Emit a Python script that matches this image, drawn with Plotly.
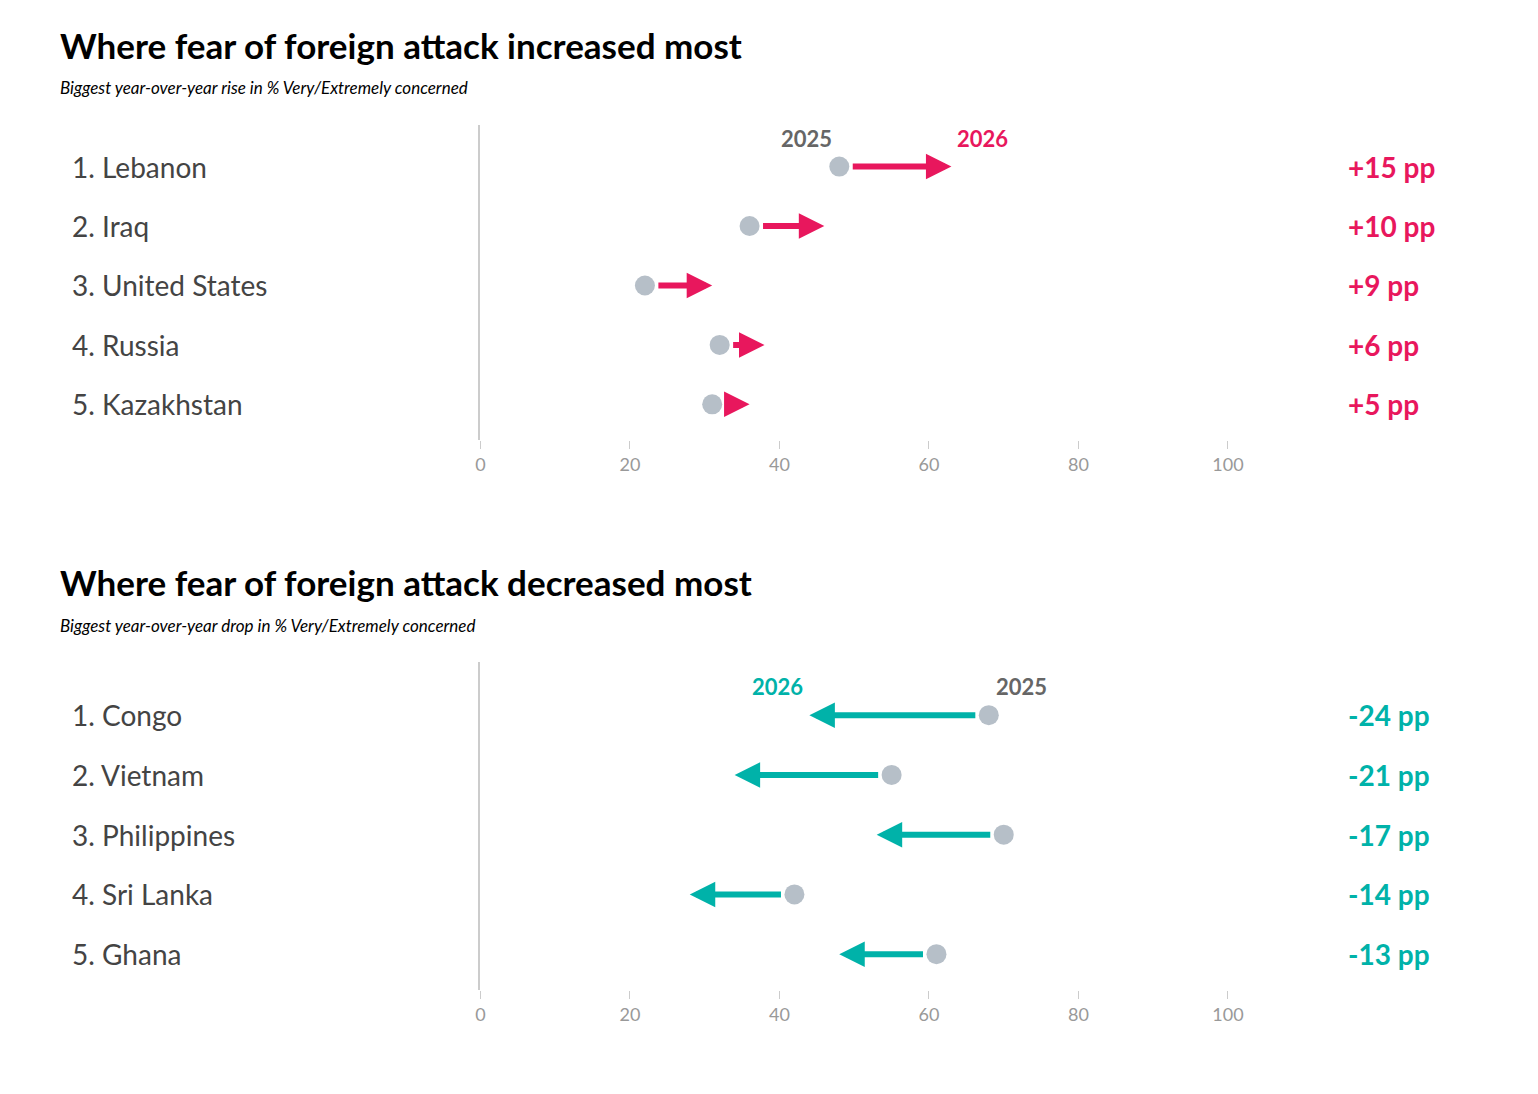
import plotly.graph_objects as go

inc_countries = ["1. Lebanon", "2. Iraq", "3. United States", "4. Russia", "5. Kazakhstan"]
inc_2025 = [48, 36, 22, 32, 31]
inc_2026 = [63, 46, 31, 38, 36]
inc_labels = ["+15 pp", "+10 pp", "+9 pp", "+6 pp", "+5 pp"]

dec_countries = ["1. Congo", "2. Vietnam", "3. Philippines", "4. Sri Lanka", "5. Ghana"]
dec_2025 = [68, 55, 70, 42, 61]
dec_2026 = [44, 34, 53, 28, 48]
dec_labels = ["-24 pp", "-21 pp", "-17 pp", "-14 pp", "-13 pp"]

RED = "#e8175d"
TEAL = "#00b2a9"
GREY = "#b6bfc8"
W, H = 1522, 1078
OFF = 8
FONT = "Lato"

def px(x):
    return (x - OFF) / W

def py(y):
    return 1 - (y - OFF) / H

fig = go.Figure()
ann = []

def panel(idx, countries, v25, v26, labels, color, ytop, ybot, yrange, title, sub, ty):
    xa = "x" if idx == 1 else "x2"
    ya = "y" if idx == 1 else "y2"
    ypos = list(range(len(countries)))
    fig.add_trace(go.Scatter(x=v25, y=ypos, mode="markers", xaxis=xa, yaxis=ya,
                             marker=dict(size=20, color=GREY), showlegend=False, hoverinfo="skip"))
    for i in ypos:
        direction = 1 if v26[i] > v25[i] else -1
        ann.append(dict(x=v26[i], y=i, ax=v25[i] + direction * 1.6, ay=i, xref=xa, yref=ya,
                        axref=xa, ayref=ya, showarrow=True, arrowhead=2, arrowsize=0.85,
                        arrowwidth=6, arrowcolor=color, text=""))
        ann.append(dict(x=px(66), y=i, xref="paper", yref=ya, text=countries[i], showarrow=False,
                        xanchor="left", font=dict(size=28, color="#444", family=FONT)))
        ann.append(dict(x=px(1360), y=i, xref="paper", yref=ya, text="<b>%s</b>" % labels[i],
                        showarrow=False, xanchor="left", font=dict(size=28, color=color, family=FONT)))
    d = 1 if v26[0] > v25[0] else -1
    ann.append(dict(x=v25[0] - d * 4.4, y=-0.48, xref=xa, yref=ya, text="<b>2025</b>", showarrow=False,
                    yanchor="middle", font=dict(size=22, color="#666", family=FONT)))
    ann.append(dict(x=v26[0] + d * 4.2, y=-0.48, xref=xa, yref=ya, text="<b>2026</b>", showarrow=False,
                    yanchor="middle", font=dict(size=22, color=color, family=FONT)))
    ann.append(dict(x=px(54), y=py(ty), xref="paper", yref="paper", text="<b>%s</b>" % title,
                    showarrow=False, xanchor="left", yanchor="middle",
                    font=dict(size=35, color="black", family=FONT)))
    ann.append(dict(x=px(54), y=py(ty + 43), xref="paper", yref="paper", text="<i>%s</i>" % sub,
                    showarrow=False, xanchor="left", yanchor="middle",
                    font=dict(size=17, color="black", family=FONT)))
    axx = dict(domain=[px(482), px(1240)], range=[0, 100], tickvals=[0, 20, 40, 60, 80, 100],
               showgrid=False, zeroline=False, ticks="outside", ticklen=8, tickcolor="#ccc",
               tickfont=dict(size=18, color="#999", family=FONT), anchor=ya)
    axy = dict(domain=[py(ybot), py(ytop)], range=yrange, showgrid=False, zeroline=False,
               showticklabels=False, showline=True, linecolor="#ccc", linewidth=2, anchor=xa)
    return axx, axy

ax1, ay1 = panel(1, inc_countries, inc_2025, inc_2026, inc_labels, RED, 125, 440, [4.6, -0.7],
                 "Where fear of foreign attack increased most",
                 "Biggest year-over-year rise in % Very/Extremely concerned", 45)
ax2, ay2 = panel(2, dec_countries, dec_2025, dec_2026, dec_labels, TEAL, 662, 990, [4.6, -0.89],
                 "Where fear of foreign attack decreased most",
                 "Biggest year-over-year drop in % Very/Extremely concerned", 582)

fig.update_layout(width=W, height=H, margin=dict(l=0, r=0, t=0, b=0),
                  plot_bgcolor="white", paper_bgcolor="white",
                  xaxis=ax1, yaxis=ay1, xaxis2=ax2, yaxis2=ay2, annotations=ann)
fig.write_html("out.html")
